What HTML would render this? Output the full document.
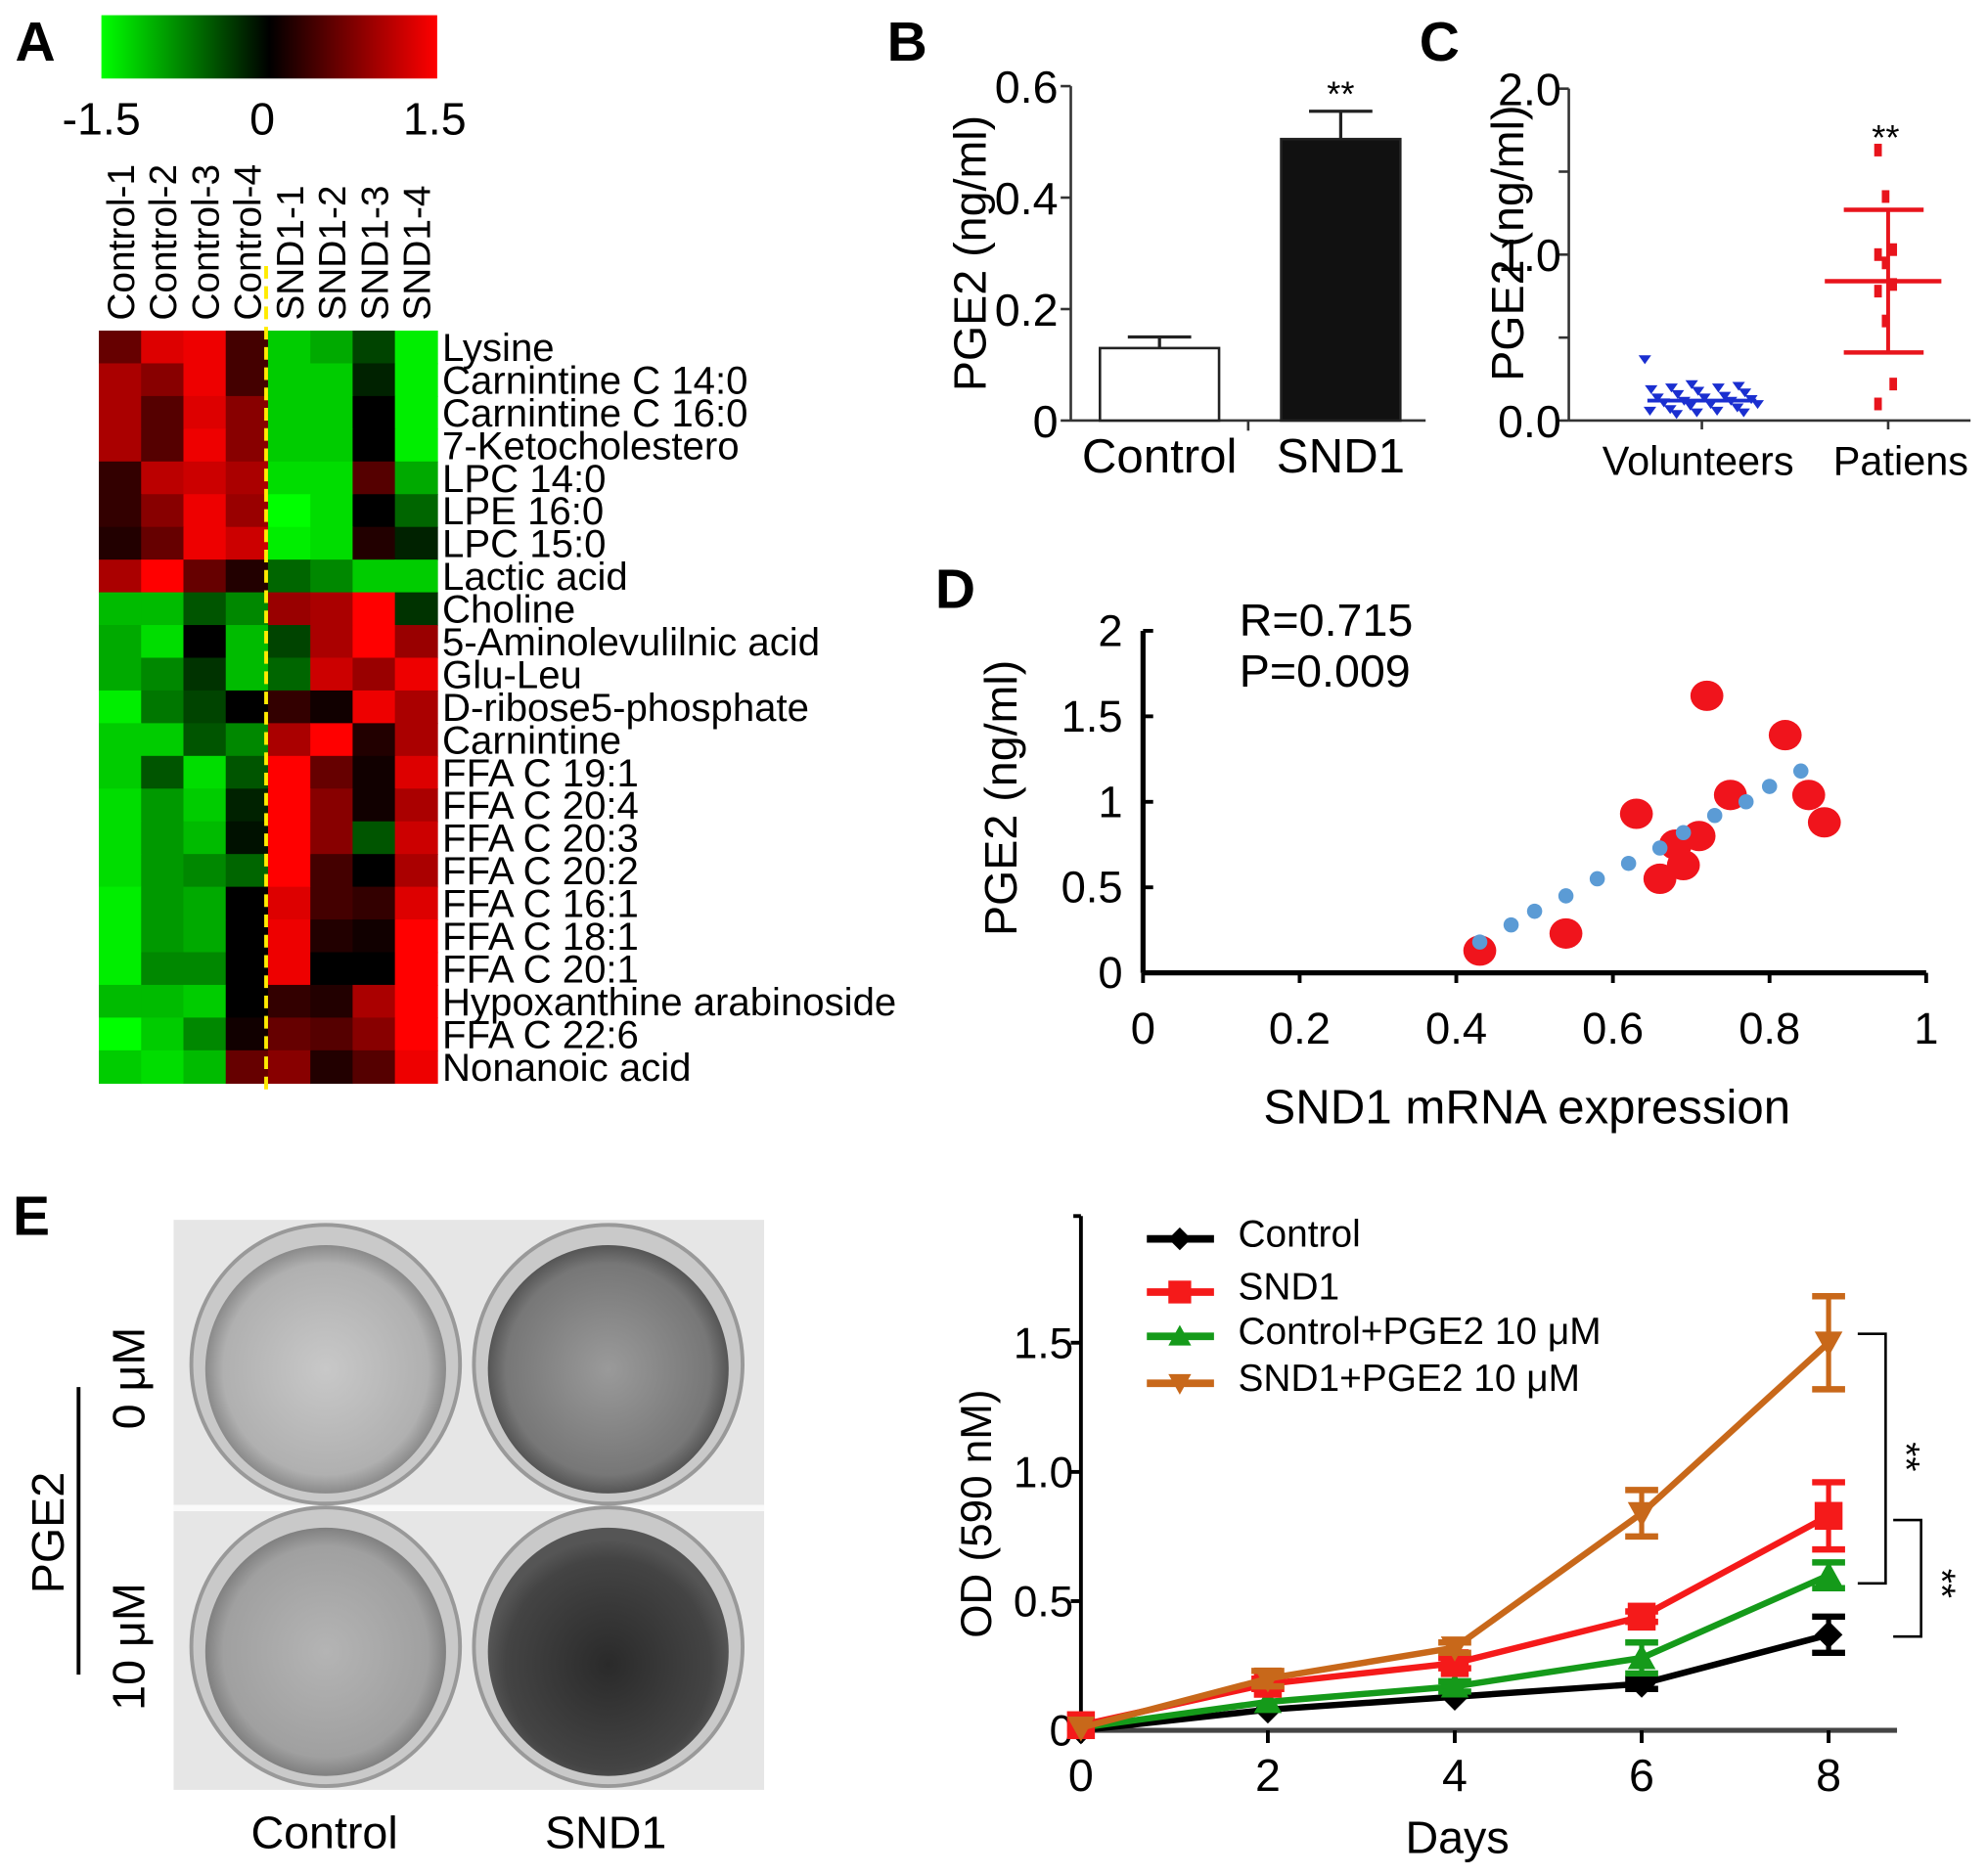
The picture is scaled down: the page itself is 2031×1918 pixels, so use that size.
<!DOCTYPE html>
<html><head><meta charset="utf-8">
<style>
html,body{margin:0;padding:0;background:#fff;}
svg{display:block;font-family:"Liberation Sans",sans-serif;}
</style></head>
<body>
<svg id="fig" width="2031" height="1918" viewBox="0 0 1568 1481" preserveAspectRatio="none" xmlns="http://www.w3.org/2000/svg">
<defs>
<linearGradient id="cbar" x1="0" x2="1" y1="0" y2="0">
<stop offset="0" stop-color="#00ff00"/><stop offset="0.5" stop-color="#000"/><stop offset="1" stop-color="#ff0000"/>
</linearGradient>
<radialGradient id="dishL" cx="0.5" cy="0.5" r="0.5"><stop offset="0" stop-color="#c8c8c8"/><stop offset="0.85" stop-color="#b0b0b0"/><stop offset="1" stop-color="#8a8a8a"/></radialGradient>
<radialGradient id="dishM" cx="0.5" cy="0.5" r="0.5"><stop offset="0" stop-color="#9a9a9a"/><stop offset="0.85" stop-color="#777"/><stop offset="1" stop-color="#555"/></radialGradient>
<radialGradient id="dishD" cx="0.5" cy="0.55" r="0.5"><stop offset="0" stop-color="#2a2a2a"/><stop offset="0.85" stop-color="#444"/><stop offset="1" stop-color="#555"/></radialGradient>
<radialGradient id="dishC" cx="0.5" cy="0.5" r="0.5"><stop offset="0" stop-color="#b4b4b4"/><stop offset="0.85" stop-color="#a0a0a0"/><stop offset="1" stop-color="#808080"/></radialGradient>
</defs>
<g id="root"></g>
</svg>
<script>
// ---------- DATA ----------
const heatCols = ["Control-1","Control-2","Control-3","Control-4","SND1-1","SND1-2","SND1-3","SND1-4"];
const heatRows = ["Lysine","Carnintine C 14:0","Carnintine C 16:0","7-Ketocholestero","LPC 14:0","LPE 16:0","LPC 15:0","Lactic acid","Choline","5-Aminolevulilnic acid","Glu-Leu","D-ribose5-phosphate","Carnintine","FFA C 19:1","FFA C 20:4","FFA C 20:3","FFA C 20:2","FFA C 16:1","FFA C 18:1","FFA C 20:1","Hypoxanthine arabinoside","FFA C 22:6","Nonanoic acid"];
const heatValues = [
[0.6,1.3,1.4,0.4,-1.2,-1.0,-0.4,-1.4],
[1.0,0.8,1.4,0.4,-1.2,-1.2,-0.2,-1.4],
[1.0,0.5,1.3,0.8,-1.2,-1.2,0,-1.4],
[1.0,0.5,1.4,0.8,-1.2,-1.2,0,-1.4],
[0.3,1.1,1.2,1.0,-1.3,-1.3,0.5,-1.0],
[0.3,0.8,1.4,0.9,-1.5,-1.3,0,-0.6],
[0.2,0.6,1.4,1.2,-1.4,-1.3,0.2,-0.2],
[1.0,1.5,0.6,0.2,-0.6,-0.8,-1.2,-1.2],
[-1.1,-1.1,-0.5,-0.8,0.9,1.0,1.5,-0.3],
[-1.0,-1.3,0,-1.1,-0.4,1.0,1.5,0.9],
[-1.0,-0.8,-0.3,-1.1,-0.6,1.2,0.9,1.4],
[-1.4,-0.7,-0.4,0,0.3,0.1,1.4,1.0],
[-1.2,-1.2,-0.5,-0.8,1.0,1.5,0.2,1.0],
[-1.2,-0.5,-1.3,-0.5,1.5,0.6,0.1,1.3],
[-1.3,-0.9,-1.2,-0.2,1.5,0.8,0.1,1.0],
[-1.3,-0.9,-1.1,-0.1,1.5,0.8,-0.5,1.2],
[-1.3,-0.9,-0.8,-0.6,1.5,0.4,0,1.0],
[-1.4,-0.9,-1.0,0,1.3,0.4,0.3,1.3],
[-1.4,-0.9,-1.0,0,1.4,0.2,0.1,1.5],
[-1.4,-0.8,-0.8,0,1.4,0,0,1.5],
[-1.1,-1.1,-1.2,0,0.3,0.2,1.0,1.5],
[-1.5,-1.2,-0.8,0.1,0.6,0.5,0.8,1.5],
[-1.2,-1.3,-1.1,0.6,0.8,0.2,0.5,1.4]];
const cbarTicks = ["-1.5","0","1.5"];

const barCats = ["Control","SND1"];
const barVals = [0.13,0.505];
const barErr = [0.02,0.05];
const barTicks = [0,0.2,0.4,0.6];
const barTickLabels = ["0","0.2","0.4","0.6"];

const volVals = [0.37,0.22,0.21,0.2,0.2,0.19,0.18,0.17,0.16,0.15,0.14,0.14,0.13,0.12,0.12,0.11,0.1,0.1,0.09,0.08,0.07,0.06,0.06,0.05,0.05,0.04];
const patVals = [1.63,1.35,1.03,1.0,0.95,0.82,0.78,0.6,0.22,0.1];
const patMean = 0.84, patSD = 0.43, volMean = 0.12, volSD = 0.05;
const cTicks = [0,0.5,1,1.5,2];
const cTickLabels = ["0.0","","1.0","","2.0"];

const scX = [0.43,0.54,0.63,0.66,0.68,0.69,0.71,0.72,0.75,0.82,0.85,0.87];
const scY = [0.13,0.23,0.93,0.55,0.75,0.63,0.8,1.62,1.04,1.39,1.04,0.88];
const fitX = [0.43,0.47,0.5,0.54,0.58,0.62,0.66,0.69,0.73,0.77,0.8,0.84];
const fitY = [0.18,0.28,0.36,0.45,0.55,0.64,0.73,0.82,0.92,1.0,1.09,1.18];
const dXTicks = [0,0.2,0.4,0.6,0.8,1];
const dXLabels = ["0","0.2","0.4","0.6","0.8","1"];
const dYTicks = [0,0.5,1,1.5,2];
const dYLabels = ["0","0.5","1","1.5","2"];

const days = [0,2,4,6,8];
const seriesNames = ["Control","SND1","Control+PGE2 10 μM","SND1+PGE2 10 μM"];
const ctrlVals = [0.0,0.08,0.13,0.18,0.37];
const ctrlErr = [0,0.01,0.01,0.02,0.07];
const sndVals = [0.02,0.18,0.26,0.44,0.83];
const sndErr = [0,0.02,0.02,0.02,0.13];
const ctrlPgeVals = [0.01,0.11,0.17,0.28,0.6];
const ctrlPgeErr = [0,0.01,0.02,0.06,0.05];
const sndPgeVals = [0.01,0.2,0.32,0.84,1.5];
const sndPgeErr = [0,0.03,0.02,0.09,0.18];
const eYTicks = [0,0.5,1.0,1.5];
const eYLabels = ["0","0.5","1.0","1.5"];

// ---------- HELPERS ----------
const NS="http://www.w3.org/2000/svg";
const root=document.getElementById('root');
function mk(tag,attrs,parent,txt){const e=document.createElementNS(NS,tag);for(const k in attrs)e.setAttribute(k,attrs[k]);if(txt!==undefined)e.textContent=txt;(parent||root).appendChild(e);return e;}
function grp(name){const g=mk('g',{});return g;}
function heatColor(v){const t=Math.max(-1.5,Math.min(1.5,v))/1.5;if(t>=0)return `rgb(${Math.round(255*t)},0,0)`;return `rgb(0,${Math.round(255*-t)},0)`;}

// ---------- PANEL LABELS ----------
[["A",12,48],["B",700,48],["C",1120,48],["D",738,480],["E",10,975]].forEach(p=>{
 const t=mk('text',{x:p[1],y:p[2],'font-size':44,'font-weight':'bold'},root,p[0]);
 
 
});

// ---------- PANEL A: heatmap ----------
const gA=grp('heatmap-panel');
const cb=mk('rect',{x:80,y:12,width:265,height:50,fill:'url(#cbar)'},gA);

[80,207,343].forEach((x,i)=>{const t=mk('text',{x:x,y:106,'font-size':36,'text-anchor':'middle'},gA,cbarTicks[i]);
 });
const hx0=78,hx1=345,hy0=261,hy1=855;
const cw=(hx1-hx0)/heatCols.length, rh=(hy1-hy0)/heatRows.length;
heatRows.forEach((r,i)=>{heatCols.forEach((c,j)=>{
 const el=mk('rect',{x:hx0+j*cw,y:hy0+i*rh,width:cw+0.6,height:rh+0.6,fill:heatColor(heatValues[i][j])},gA);
 
});
 const t=mk('text',{x:349,y:hy0+(i+0.5)*rh+11,'font-size':31},gA,r);
 
});
heatCols.forEach((c,j)=>{const cx=hx0+(j+0.5)*cw+11;
 const t=mk('text',{x:0,y:0,'font-size':30,transform:`translate(${cx},253) rotate(-90)`},gA,c);
 });
const yl=mk('line',{x1:210,y1:210,x2:210,y2:860,stroke:'#ffeb00','stroke-width':3,'stroke-dasharray':'10,6'},gA);


// ---------- PANEL B ----------
const gB=grp('bar-chart-panel');
const bx0=845,bx1=1125,by0=332,by1=68;
const bY=v=>by0-(v/0.6)*(by0-by1);
mk('line',{x1:bx0,y1:by1,x2:bx0,y2:by0,stroke:'#333','stroke-width':2},gB);
mk('line',{x1:bx0,y1:by0,x2:bx1,y2:by0,stroke:'#333','stroke-width':2},gB);
mk('line',{x1:985,y1:by0,x2:985,y2:by0+8,stroke:'#333','stroke-width':2},gB);
barTicks.forEach((v,i)=>{mk('line',{x1:bx0-8,y1:bY(v),x2:bx0,y2:bY(v),stroke:'#333','stroke-width':2},gB);
 const t=mk('text',{x:bx0-10,y:bY(v)+13,'font-size':36,'text-anchor':'end'},gB,barTickLabels[i]);
 });
const bCenters=[915,1058];
barCats.forEach((c,i)=>{const cx=bCenters[i],w=94;
 const top=bY(barVals[i]);const e=bY(barVals[i]+barErr[i]);
 mk('line',{x1:cx,y1:top,x2:cx,y2:e,stroke:'#222','stroke-width':2.5},gB);
 mk('line',{x1:cx-25,y1:e,x2:cx+25,y2:e,stroke:'#222','stroke-width':2.5},gB);
 const r=mk('rect',{x:cx-w/2,y:top,width:w,height:by0-top,fill:i?'#111':'#fff',stroke:'#222','stroke-width':2},gB);
 
 const t=mk('text',{x:cx,y:373,'font-size':38,'text-anchor':'middle'},gB,c);
 });
mk('text',{x:1058,y:bY(barVals[1]+barErr[1])-4,'font-size':28,'text-anchor':'middle'},gB,'**');
const bl=mk('text',{x:0,y:0,'font-size':36,'text-anchor':'middle',transform:'translate(778,200) rotate(-90)'},gB,'PGE2 (ng/ml)');


// ---------- PANEL C ----------
const gC=grp('dot-plot-panel');
const cx0=1238,cx1=1555,cy0=332,cy1=70;
const cY=v=>cy0-(v/2)*(cy0-cy1);
mk('line',{x1:cx0,y1:cy1,x2:cx0,y2:cy0,stroke:'#333','stroke-width':2},gC);
mk('line',{x1:cx0,y1:cy0,x2:cx1,y2:cy0,stroke:'#333','stroke-width':2},gC);
cTicks.forEach((v,i)=>{mk('line',{x1:cx0-8,y1:cY(v),x2:cx0,y2:cY(v),stroke:'#333','stroke-width':2},gC);
 if(cTickLabels[i]){const t=mk('text',{x:cx0-6,y:cY(v)+13,'font-size':36,'text-anchor':'end'},gC,cTickLabels[i]);
 }});
[1343,1490].forEach(x=>mk('line',{x1:x,y1:cy0,x2:x,y2:cy0+7,stroke:'#333','stroke-width':2},gC));
[["Volunteers",1340],["Patiens",1500]].forEach(p=>{const t=mk('text',{x:p[1],y:375,'font-size':32,'text-anchor':'middle'},gC,p[0]);
 });
const cl=mk('text',{x:0,y:0,'font-size':36,'text-anchor':'middle',transform:'translate(1202,192) rotate(-90)'},gC,'PGE2 (ng/ml)');

volVals.forEach((v,i)=>{const x=1343+((i*37)%90)-45;
 const p=mk('path',{d:`M${x-5},${cY(v)-3}L${x+5},${cY(v)-3}L${x},${cY(v)+4}Z`,fill:'#1a2fd0'},gC);
 });
mk('line',{x1:1300,y1:cY(volMean),x2:1386,y2:cY(volMean),stroke:'#1a2fd0','stroke-width':3},gC);
patVals.forEach((v,i)=>{const x=1488+((i%3)-1)*6;
 const p=mk('rect',{x:x-3,y:cY(v)-5,width:6,height:10,fill:'#e8141c'},gC);
 });
mk('line',{x1:1490,y1:cY(patMean+patSD),x2:1490,y2:cY(patMean-patSD),stroke:'#e8141c','stroke-width':3},gC);
mk('line',{x1:1440,y1:cY(patMean),x2:1532,y2:cY(patMean),stroke:'#e8141c','stroke-width':3.5},gC);
[patMean+patSD,patMean-patSD].forEach(v=>mk('line',{x1:1455,y1:cY(v),x2:1518,y2:cY(v),stroke:'#e8141c','stroke-width':3.5},gC));
mk('text',{x:1488,y:118,'font-size':28,'text-anchor':'middle'},gC,'**');

// ---------- PANEL D ----------
const gD=grp('scatter-panel');
const dx0=902,dx1=1520,dy0=768,dy1=498;
const dX=v=>dx0+v*(dx1-dx0), dY=v=>dy0-(v/2)*(dy0-dy1);
mk('line',{x1:dx0,y1:dy1,x2:dx0,y2:dy0,stroke:'#000','stroke-width':4},gD);
mk('line',{x1:dx0,y1:dy0,x2:dx1,y2:dy0,stroke:'#000','stroke-width':4},gD);
dYTicks.forEach((v,i)=>{mk('line',{x1:dx0,y1:dY(v),x2:dx0+8,y2:dY(v),stroke:'#000','stroke-width':3},gD);
 const t=mk('text',{x:dx0-16,y:dY(v)+12,'font-size':35,'text-anchor':'end'},gD,dYLabels[i]);
 });
dXTicks.forEach((v,i)=>{mk('line',{x1:dX(v),y1:dy0,x2:dX(v),y2:dy0+8,stroke:'#000','stroke-width':3},gD);
 const t=mk('text',{x:dX(v),y:824,'font-size':35,'text-anchor':'middle'},gD,dXLabels[i]);
 });
const dxl=mk('text',{x:1205,y:887,'font-size':38,'text-anchor':'middle'},gD,'SND1 mRNA expression');

const dyl=mk('text',{x:0,y:0,'font-size':36,'text-anchor':'middle',transform:'translate(802,630) rotate(-90)'},gD,'PGE2 (ng/ml)');

mk('text',{x:978,y:502,'font-size':36},gD,'R=0.715');
mk('text',{x:978,y:542,'font-size':36},gD,'P=0.009');
scX.forEach((x,i)=>{const c=mk('ellipse',{cx:dX(x),cy:dY(scY[i]),rx:13,ry:12,fill:'#f0141c'},gD);
 });
fitX.forEach((x,i)=>{const c=mk('circle',{cx:dX(x),cy:dY(fitY[i]),r:6,fill:'#5b9bd5'},gD);
 });

// ---------- PANEL E: dishes ----------
const gE=grp('colony-image-panel');
mk('rect',{x:137,y:963,width:466,height:450,fill:'#e6e6e6'},gE);
mk('rect',{x:137,y:1188,width:466,height:5,fill:'#fafafa'},gE);
[[257,1077,'url(#dishL)'],[480,1077,'url(#dishM)'],[257,1300,'url(#dishC)'],[480,1300,'url(#dishD)']].forEach((d,i)=>{
 const o=mk('ellipse',{cx:d[0],cy:d[1],rx:106,ry:110,fill:'#c9c9c9',stroke:'#999','stroke-width':3},gE);
 
 mk('ellipse',{cx:d[0],cy:d[1]+4,rx:95,ry:98,fill:d[2]},gE);
});
[["Control",256],["SND1",478]].forEach(p=>{const t=mk('text',{x:p[1],y:1459,'font-size':36,'text-anchor':'middle'},gE,p[0]);
 });
mk('text',{x:0,y:0,'font-size':36,'text-anchor':'middle',transform:'translate(114,1088) rotate(-90)'},gE,'0 μM');
mk('text',{x:0,y:0,'font-size':36,'text-anchor':'middle',transform:'translate(114,1300) rotate(-90)'},gE,'10 μM');
mk('text',{x:0,y:0,'font-size':36,'text-anchor':'middle',transform:'translate(50,1210) rotate(-90)'},gE,'PGE2');
mk('line',{x1:62,y1:1095,x2:62,y2:1322,stroke:'#000','stroke-width':3},gE);

// ---------- PANEL E: line chart ----------
const gL=grp('growth-line-chart');
const ex0=853,ex1=1497,ey0=1366;
const eX=d=>ex0+d*73.75, eY=v=>ey0-v*204;
mk('line',{x1:ex0,y1:960,x2:ex0,y2:ey0,stroke:'#000','stroke-width':3},gL);
mk('line',{x1:ex0-6,y1:960,x2:ex0,y2:960,stroke:'#000','stroke-width':3},gL);
mk('line',{x1:ex0,y1:ey0,x2:ex1,y2:ey0,stroke:'#444','stroke-width':4},gL);
eYTicks.forEach((v,i)=>{mk('line',{x1:ex0-8,y1:eY(v),x2:ex0,y2:eY(v),stroke:'#000','stroke-width':3},gL);
 const t=mk('text',{x:ex0-6,y:eY(v)+12,'font-size':34,'text-anchor':'end','font-family':'Liberation Sans Narrow, Liberation Sans, sans-serif'},gL,eYLabels[i]);
 });
days.forEach(d=>{mk('line',{x1:eX(d),y1:ey0,x2:eX(d),y2:ey0+10,stroke:'#000','stroke-width':3},gL);
 const t=mk('text',{x:eX(d),y:1414,'font-size':36,'text-anchor':'middle','font-family':'Liberation Sans Narrow, Liberation Sans, sans-serif'},gL,String(d));
 });
const exl=mk('text',{x:1150,y:1463,'font-size':36,'text-anchor':'middle'},gL,'Days');

const eyl=mk('text',{x:0,y:0,'font-size':34,'text-anchor':'middle',transform:'translate(782,1195) rotate(-90)'},gL,'OD (590 nM)');

const colors=['#000','#f51a1a','#159a1a','#c8681a'];
const allVals=[ctrlVals,sndVals,ctrlPgeVals,sndPgeVals];
const allErr=[ctrlErr,sndErr,ctrlPgeErr,sndPgeErr];
function marker(g,i,x,y,s){
 let e;
 if(i===0)e=mk('path',{d:`M${x},${y-s}L${x+s},${y}L${x},${y+s}L${x-s},${y}Z`,fill:colors[i]},g);
 else if(i===1)e=mk('rect',{x:x-s,y:y-s,width:2*s,height:2*s,fill:colors[i]},g);
 else if(i===2)e=mk('path',{d:`M${x},${y-s}L${x+s},${y+s*0.8}L${x-s},${y+s*0.8}Z`,fill:colors[i]},g);
 else e=mk('path',{d:`M${x-s},${y-s*0.8}L${x+s},${y-s*0.8}L${x},${y+s}Z`,fill:colors[i]},g);
 
}
[0,2,1,3].forEach(i=>{
 const sg=grp('series-'+seriesNames[i].toLowerCase().replace(/[^a-z0-9]+/g,'-'));
 const pts=days.map((d,k)=>eX(d)+','+eY(allVals[i][k])).join(' ');
 const pl=mk('polyline',{points:pts,fill:'none',stroke:colors[i],'stroke-width':5},sg);
 
 days.forEach((d,k)=>{const x=eX(d),v=allVals[i][k],e=allErr[i][k];
  if(e>0.015){mk('line',{x1:x,y1:eY(v+e),x2:x,y2:eY(v-e),stroke:colors[i],'stroke-width':4},sg);
   [v+e,v-e].forEach(q=>mk('line',{x1:x-13,y1:eY(q),x2:x+13,y2:eY(q),stroke:colors[i],'stroke-width':5},sg));}
  marker(sg,i,x,eY(v),11);
 });
});
// legend
const legY=[970,1012,1047,1084];
seriesNames.forEach((n,i)=>{const lg=grp('legend-entry');
 mk('line',{x1:905,y1:legY[i]+8,x2:958,y2:legY[i]+8,stroke:colors[i],'stroke-width':6},lg);
 marker(lg,i,931,legY[i]+8,9);
 mk('text',{x:977,y:legY[i]+14,'font-size':30,'font-family':'Liberation Sans Narrow, Liberation Sans, sans-serif'},lg,n);
});
// significance brackets
mk('path',{d:'M1466,1053 H1488 V1250 H1466',fill:'none',stroke:'#000','stroke-width':2},gL);
mk('text',{x:0,y:0,'font-size':30,'text-anchor':'middle',transform:'translate(1494,1150) rotate(90)'},gL,'**');
mk('path',{d:'M1494,1200 H1516 V1292 H1494',fill:'none',stroke:'#000','stroke-width':2},gL);
mk('text',{x:0,y:0,'font-size':30,'text-anchor':'middle',transform:'translate(1522,1250) rotate(90)'},gL,'**');
</script>
</body></html>
